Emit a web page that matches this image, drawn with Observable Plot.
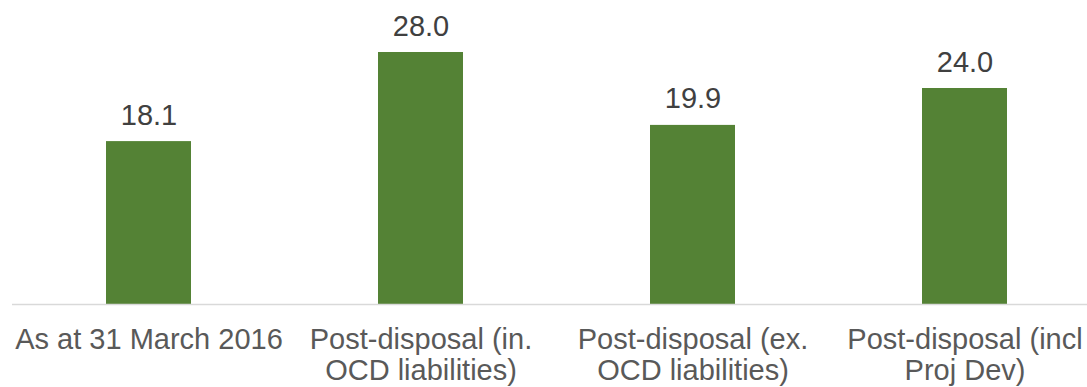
<!DOCTYPE html>
<html>
<head>
<meta charset="utf-8">
<script src="https://cdn.jsdelivr.net/npm/d3@7"></script>
<script src="https://cdn.jsdelivr.net/npm/@observablehq/plot@0.6"></script>
<style>
html,body{margin:0;padding:0;background:#fff;overflow:hidden;}
svg{display:block;}
</style>
</head>
<body>
<div id="chart"></div>
<script>
const categories = [
  "As at 31 March 2016",
  "Post-disposal (in.\nOCD liabilities)",
  "Post-disposal (ex.\nOCD liabilities)",
  "Post-disposal (incl\nProj Dev)"
];
const values = [18.1, 28.0, 19.9, 24.0];
const data = categories.map((c, i) => ({category: c, value: values[i]}));

const chart = Plot.plot({
  width: 1087,
  height: 387,
  marginLeft: 12,
  marginRight: 0,
  marginTop: 0,
  marginBottom: 0,
  style: {fontFamily: "Liberation Sans, Arial, sans-serif", background: "#fff"},
  x: {domain: categories, range: [12, 1100], paddingInner: 0.6875, paddingOuter: 0.34375, axis: null},
  y: {domain: [0, 28], range: [304, 52], axis: null},
  marks: [
    Plot.barY(data, {x: "category", y: "value", fill: "#548235"}),
    Plot.ruleY([0], {stroke: "#d9d9d9", strokeWidth: 1.5}),
    Plot.text(data, {x: "category", y: "value", text: d => d.value.toFixed(1), lineAnchor: "bottom", dy: -17, fontSize: 29, fill: "#404040"}),
    Plot.text(data, {x: "category", y: 0, text: "category", lineAnchor: "top", dy: 22, fontSize: 29, lineHeight: 1.08, fill: "#595959"})
  ]
});
document.getElementById("chart").appendChild(chart);
</script>
</body>
</html>
